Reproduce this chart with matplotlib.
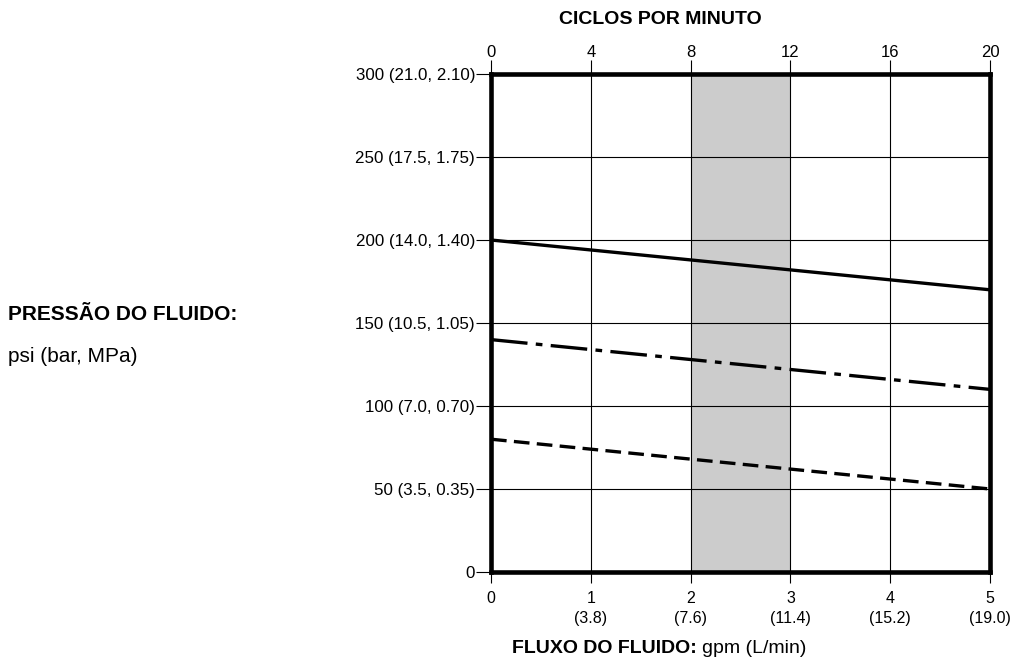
import matplotlib
matplotlib.use("Agg")
import matplotlib.pyplot as plt

plt.rcParams['font.family'] = ['Liberation Sans', 'DejaVu Sans']

# Data
flow_gpm = [0, 5]
solid_psi = [200, 170]
dashdot_psi = [140, 110]
dashed_psi = [80, 50]
shade_range = [2, 3]

x_ticks = [0, 1, 2, 3, 4, 5]
x_tick_labels = ['0', '1\n(3.8)', '2\n(7.6)', '3\n(11.4)', '4\n(15.2)', '5\n(19.0)']
top_ticks = [0, 4, 8, 12, 16, 20]
y_ticks = [0, 50, 100, 150, 200, 250, 300]
y_tick_labels = ['0', '50 (3.5, 0.35)', '100 (7.0, 0.70)', '150 (10.5, 1.05)',
                 '200 (14.0, 1.40)', '250 (17.5, 1.75)', '300 (21.0, 2.10)']

fig = plt.figure(figsize=(10.16, 6.64), dpi=100)
ax = fig.add_axes([491/1016, 1-572/664, (990-491)/1016, (572-74)/664])

ax.axvspan(shade_range[0], shade_range[1], color='#cccccc', zorder=0, lw=0)
ax.set_xlim(0, 5)
ax.set_ylim(0, 300)
ax.set_xticks(x_ticks)
ax.set_xticklabels(x_tick_labels, fontsize=11.5, linespacing=1.4)
ax.set_yticks(y_ticks)
ax.set_yticklabels(y_tick_labels, fontsize=12.2)
ax.grid(True, color='black', lw=0.8, zorder=1)
ax.tick_params(axis='y', length=10.5, width=0.8, color='black', pad=1)
ax.tick_params(axis='x', length=8, width=0.8, color='black', pad=6)

ax.plot(flow_gpm, solid_psi, color='black', lw=2.4, solid_capstyle='butt', zorder=3)
ax.plot(flow_gpm, dashdot_psi, color='black', lw=2.4, zorder=3,
        dashes=(11, 2.5, 2, 2.5))
ax.plot(flow_gpm, dashed_psi, color='black', lw=2.4, zorder=3,
        dashes=(4.7, 2.2))

for s in ax.spines.values():
    s.set_linewidth(3.3)
    s.set_zorder(4)

top = ax.twiny()
top.set_xlim(0, 20)
top.set_xticks(top_ticks)
top.set_xticklabels([str(t) for t in top_ticks], fontsize=12)
top.tick_params(axis='x', length=10, width=0.8, pad=0)
for s in top.spines.values():
    s.set_visible(False)

fig.text(660/1016, 1-20/664, 'CICLOS POR MINUTO', ha='center', va='center',
         fontsize=14, fontweight='bold')

t1 = fig.text(512/1016, 1-657/664, 'FLUXO DO FLUIDO:', ha='left', va='bottom',
              fontsize=14, fontweight='bold')
ax.annotate('gpm (L/min)', xy=(1, 0), xycoords=t1, xytext=(4, 0),
            textcoords='offset points', ha='left', va='bottom', fontsize=14,
            annotation_clip=False)

fig.text(8/1016, 1-314/664, 'PRESSÃO DO FLUIDO:', ha='left', va='center',
         fontsize=15, fontweight='bold')
fig.text(8/1016, 1-356/664, 'psi (bar, MPa)', ha='left', va='center',
         fontsize=15)

fig.savefig('out.png', dpi=100)
